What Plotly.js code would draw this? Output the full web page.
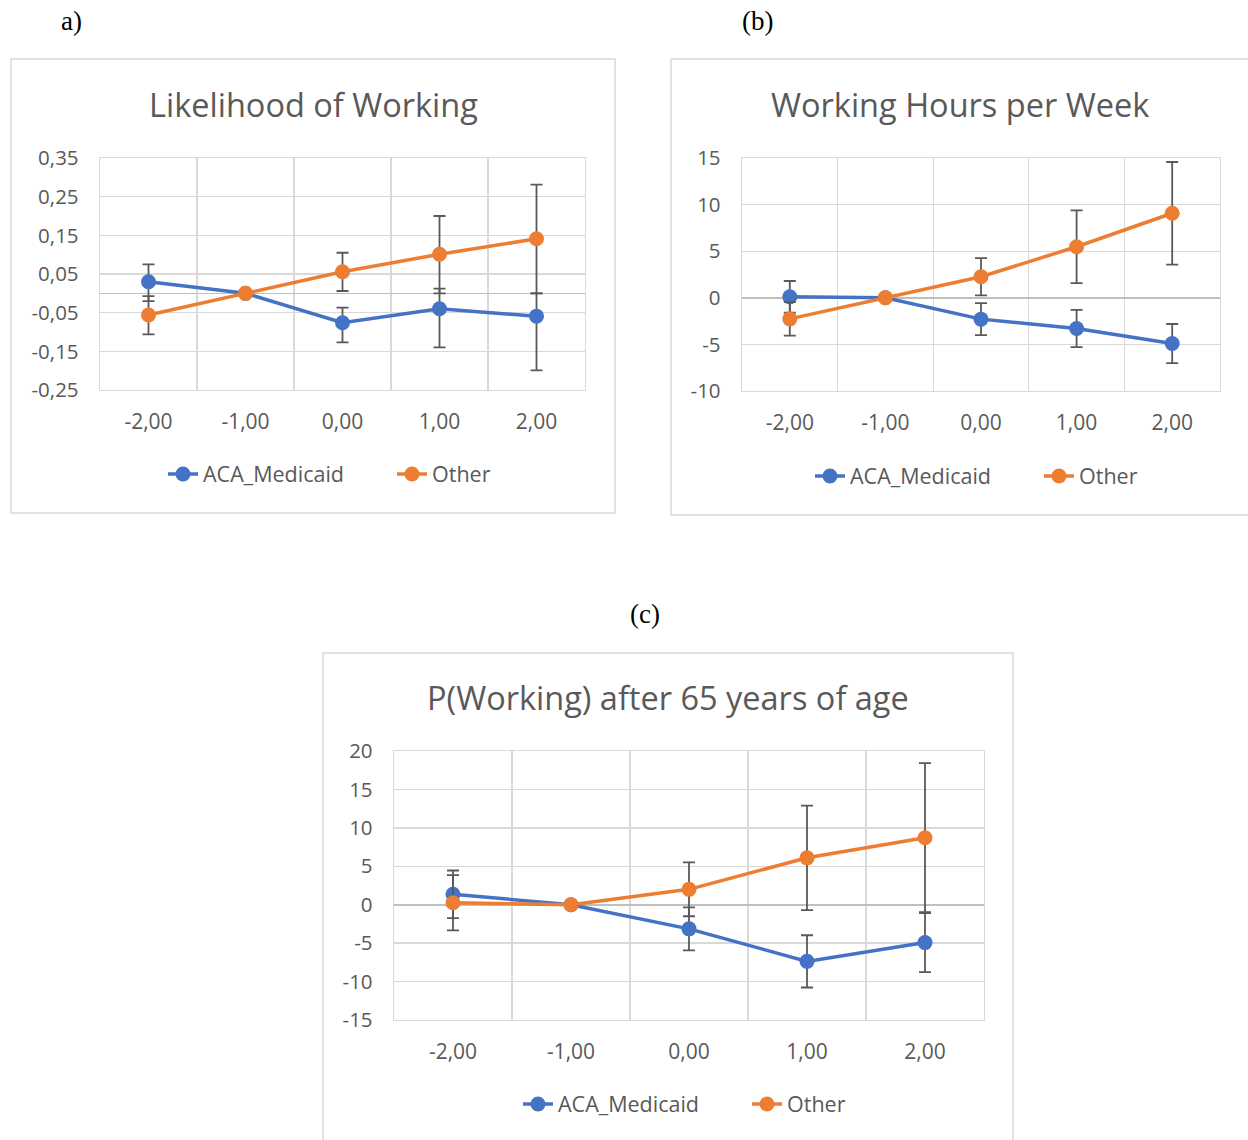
<!DOCTYPE html>
<html>
<head>
<meta charset="utf-8">
<script src="https://cdn.plot.ly/plotly-3.0.1.min.js"></script>
<style>
html,body{margin:0;padding:0;background:#fff;overflow:hidden;width:1248px;height:1140px;}
#chart{width:1248px;height:1140px;overflow:hidden;}
</style>
</head>
<body>
<div id="chart"></div>
<script>
// ---- data ----
var categories = ["-2,00", "-1,00", "0,00", "1,00", "2,00"];
var seriesNames = ["ACA_Medicaid", "Other"];

// (a) Likelihood of Working
var aMedicaid = [0.030, 0, -0.076, -0.040, -0.059];
var aMedicaidErrPlus = [0.045, 0, 0.039, 0.052, 0.059];
var aMedicaidErrMinus = [0.050, 0, 0.051, 0.100, 0.140];
var aOther = [-0.056, 0, 0.056, 0.101, 0.141];
var aOtherErrPlus = [0.049, 0, 0.049, 0.099, 0.140];
var aOtherErrMinus = [0.050, 0, 0.050, 0.101, 0.141];
var aTicks = [-0.25, -0.15, -0.05, 0.05, 0.15, 0.25, 0.35];
var aTickText = ["-0,25", "-0,15", "-0,05", "0,05", "0,15", "0,25", "0,35"];

// (b) Working Hours per Week
var bMedicaid = [0.1, 0, -2.29, -3.30, -4.91];
var bMedicaidErr = [1.7, 0, 1.72, 2.0, 2.1];
var bOther = [-2.26, 0, 2.26, 5.48, 9.07];
var bOtherErr = [1.8, 0, 2.0, 3.9, 5.5];
var bTicks = [-10, -5, 0, 5, 10, 15];

// (c) P(Working) after 65 years of age
var cMedicaid = [1.35, 0, -3.14, -7.37, -4.93];
var cMedicaidErr = [3.1, 0, 2.8, 3.4, 3.85];
var cOther = [0.26, 0, 2.0, 6.10, 8.72];
var cOtherErr = [3.6, 0, 3.5, 6.8, 9.7];
var cTicks = [-15, -10, -5, 0, 5, 10, 15, 20];

var titles = ["Likelihood of Working", "Working Hours per Week", "P(Working) after 65 years of age"];
var panelLabels = ["a)", "(b)", "(c)"];

// ---- helpers ----
var W = 1248, H = 1140;
function px(x){ return x / W; }
function py(y){ return 1 - y / H; }

var BLUE = "#4472C4", ORANGE = "#ED7D31", GREY = "#595959", GRID = "#d9d9d9";
var FONT = "Open Sans, Noto Sans, sans-serif";

function errObj(plus, minus){
  return {type: "data", symmetric: false, array: plus, arrayminus: minus || plus,
          color: GREY, thickness: 1.8, width: 6};
}
function trace(y, plus, minus, name, color, axis, legend){
  return {
    type: "scatter", mode: "lines+markers", x: categories, y: y, name: name,
    xaxis: "x" + axis, yaxis: "y" + axis, legend: legend,
    line: {color: color, width: 3.5}, marker: {color: color, size: 15},
    error_y: errObj(plus, minus), hoverinfo: "skip"
  };
}

var data = [
  trace(aMedicaid, aMedicaidErrPlus, aMedicaidErrMinus, seriesNames[0], BLUE, "", "legend"),
  trace(aOther, aOtherErrPlus, aOtherErrMinus, seriesNames[1], ORANGE, "", "legend"),
  trace(bMedicaid, bMedicaidErr, bMedicaidErr, seriesNames[0], BLUE, "2", "legend2"),
  trace(bOther, bOtherErr, bOtherErr, seriesNames[1], ORANGE, "2", "legend2"),
  trace(cMedicaid, cMedicaidErr, cMedicaidErr, seriesNames[0], BLUE, "3", "legend3"),
  trace(cOther, cOtherErr, cOtherErr, seriesNames[1], ORANGE, "3", "legend3")
];

function xAxis(x0, x1, anchor){
  return {
    domain: [px(x0), px(x1)], anchor: anchor, type: "category",
    tickson: "boundaries", showgrid: true, gridcolor: GRID, gridwidth: 1.3,
    ticks: "", showline: true, mirror: true, linecolor: GRID, linewidth: 1.3,
    zeroline: false, fixedrange: true,
    tickfont: {family: FONT, size: 21, color: GREY}, ticklabelstandoff: 12,
    range: [-0.5, 4.5]
  };
}
function yAxis(y0, y1, anchor, ticks, texts, range){
  return {
    domain: [py(y1), py(y0)], anchor: anchor, range: range,
    tickmode: "array", tickvals: ticks, ticktext: texts || ticks.map(String),
    showgrid: true, gridcolor: GRID, gridwidth: 1.3,
    zeroline: true, zerolinecolor: "#bfbfbf", zerolinewidth: 1.6,
    ticks: "", showline: true, mirror: true, linecolor: GRID, linewidth: 1.3,
    fixedrange: true,
    tickfont: {family: FONT, size: 20.5, color: GREY}, ticklabelstandoff: 16
  };
}

function titleAnn(text, x, y){
  return {text: text, xref: "paper", yref: "paper", x: px(x), y: py(y),
          xanchor: "center", yanchor: "middle", showarrow: false,
          font: {family: FONT, size: 32.5, color: GREY}};
}
function labelAnn(text, x, y){
  return {text: text, xref: "paper", yref: "paper", x: px(x), y: py(y),
          xanchor: "center", yanchor: "middle", showarrow: false,
          font: {family: "Liberation Serif, Times New Roman, serif", size: 27, color: "#000"}};
}
function box(x0, y0, x1, y1){
  return {type: "rect", xref: "paper", yref: "paper", x0: px(x0), x1: px(x1), y0: py(y1), y1: py(y0),
          line: {color: GRID, width: 1.5}, fillcolor: "rgba(0,0,0,0)", layer: "below"};
}
function legendAt(x, y, ew){
  return {orientation: "h", x: px(x), y: py(y), xanchor: "left", yanchor: "middle",
          font: {family: FONT, size: 21.5, color: GREY}, bgcolor: "rgba(0,0,0,0)",
          entrywidth: ew, entrywidthmode: "pixels",
          itemclick: false, itemdoubleclick: false, tracegroupgap: 0};
}

var layout = {
  width: W, height: H, margin: {l: 0, r: 0, t: 0, b: 0, autoexpand: false},
  paper_bgcolor: "#fff", plot_bgcolor: "#fff", showlegend: true,
  xaxis: xAxis(100, 585, "y"),
  yaxis: yAxis(158, 390, "x", aTicks, aTickText, [-0.25, 0.35]),
  xaxis2: xAxis(742, 1220, "y2"),
  yaxis2: yAxis(158, 391, "x2", bTicks, null, [-10, 15]),
  xaxis3: xAxis(394, 984, "y3"),
  yaxis3: yAxis(751, 1020, "x3", cTicks, null, [-15, 20]),
  legend: legendAt(163, 474, 184),
  legend2: legendAt(810, 476, 184),
  legend3: legendAt(518, 1104, 184),
  shapes: [box(11, 59, 615, 513), box(671, 59, 1260, 515), box(323, 653, 1013, 1160)],
  annotations: [
    titleAnn(titles[0], 313, 104), titleAnn(titles[1], 960, 104), titleAnn(titles[2], 668, 697),
    labelAnn(panelLabels[0], 71, 21), labelAnn(panelLabels[1], 757, 21), labelAnn(panelLabels[2], 645, 614)
  ]
};

Plotly.newPlot("chart", data, layout, {displayModeBar: false, staticPlot: true});
</script>
</body>
</html>
